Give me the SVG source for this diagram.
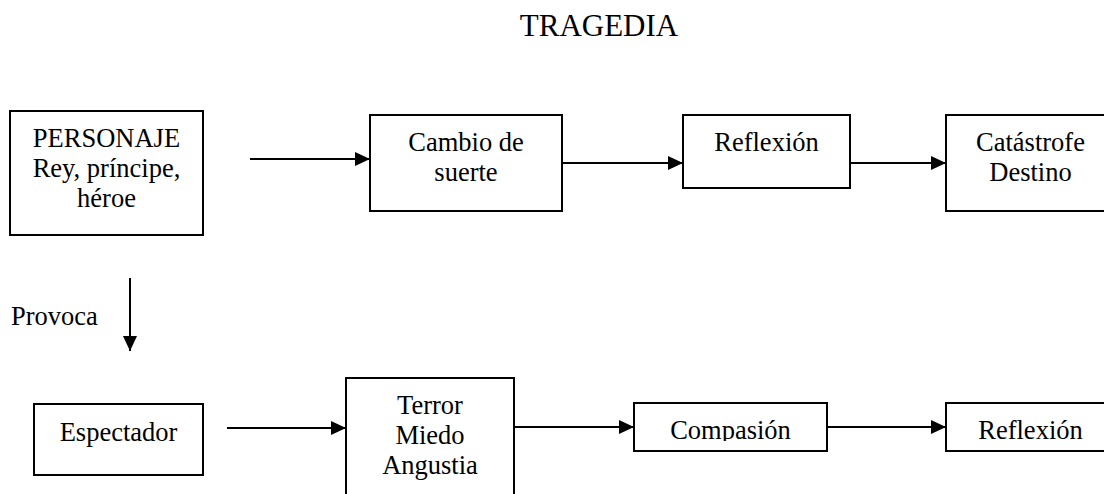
<svg xmlns="http://www.w3.org/2000/svg" width="1104" height="494" viewBox="0 0 1104 494">
<style>
.box{fill:#fff;stroke:#000;stroke-width:2}
.t{font-family:"Liberation Serif","Times New Roman",serif;font-size:26.5px;fill:#000;text-anchor:middle}
.tl{font-family:"Liberation Serif","Times New Roman",serif;font-size:26.5px;fill:#000}
.title{font-family:"Liberation Serif","Times New Roman",serif;font-size:31px;fill:#000;text-anchor:middle}
.c{stroke:#000;stroke-width:2;fill:none;marker-end:url(#ah)}
</style>
<defs>
<marker id="ah" markerWidth="15" markerHeight="14" refX="15" refY="7" orient="auto" markerUnits="userSpaceOnUse">
<path d="M0,0 L15,7 L0,14 Z" fill="#000"/>
</marker>
<clipPath id="clipComp"><rect x="634" y="403" width="193" height="38"/></clipPath>
<clipPath id="clipRef2"><rect x="946" y="403" width="158" height="38"/></clipPath>
</defs>
<rect width="1104" height="494" fill="#fff"/>
<text class="title" x="599" y="36">TRAGEDIA</text>

<g id="connectors">
<line class="c" x1="250" y1="159" x2="370" y2="159"/>
<line class="c" x1="562" y1="163" x2="683" y2="163"/>
<line class="c" x1="850" y1="163" x2="946" y2="163"/>
<line class="c" x1="130" y1="278" x2="130" y2="351"/>
<line class="c" x1="227" y1="428" x2="346" y2="428"/>
<line class="c" x1="514" y1="427" x2="634" y2="427"/>
<line class="c" x1="827" y1="427" x2="946" y2="427"/>
</g>

<g id="personaje">
<rect class="box" x="10" y="111" width="193" height="124"/>
<text class="t" x="106.5" y="147">PERSONAJE</text>
<text class="t" x="106.5" y="177">Rey, príncipe,</text>
<text class="t" x="106.5" y="207">héroe</text>
</g>
<g id="cambio">
<rect class="box" x="370" y="115" width="192" height="96"/>
<text class="t" x="466" y="151">Cambio de</text>
<text class="t" x="466" y="181">suerte</text>
</g>
<g id="reflexion1">
<rect class="box" x="683" y="115" width="167" height="73"/>
<text class="t" x="766.5" y="151">Reflexión</text>
</g>
<g id="catastrofe">
<rect class="box" x="946" y="115" width="170" height="96"/>
<text class="t" x="1030.5" y="151">Catástrofe</text>
<text class="t" x="1030.5" y="181">Destino</text>
</g>
<g id="provoca">
<text class="tl" x="11" y="325">Provoca</text>
</g>
<g id="espectador">
<rect class="box" x="34" y="404" width="169" height="71"/>
<text class="t" x="118.5" y="441">Espectador</text>
</g>
<g id="terror">
<rect class="box" x="346" y="378" width="168" height="126"/>
<text class="t" x="430" y="414">Terror</text>
<text class="t" x="430" y="444">Miedo</text>
<text class="t" x="430" y="474">Angustia</text>
</g>
<g id="compasion">
<rect class="box" x="634" y="403" width="193" height="48"/>
<text class="t" x="730.5" y="439" clip-path="url(#clipComp)">Compasión</text>
</g>
<g id="reflexion2">
<rect class="box" x="946" y="403" width="170" height="48"/>
<text class="t" x="1030.5" y="439" clip-path="url(#clipRef2)">Reflexión</text>
</g>
</svg>
